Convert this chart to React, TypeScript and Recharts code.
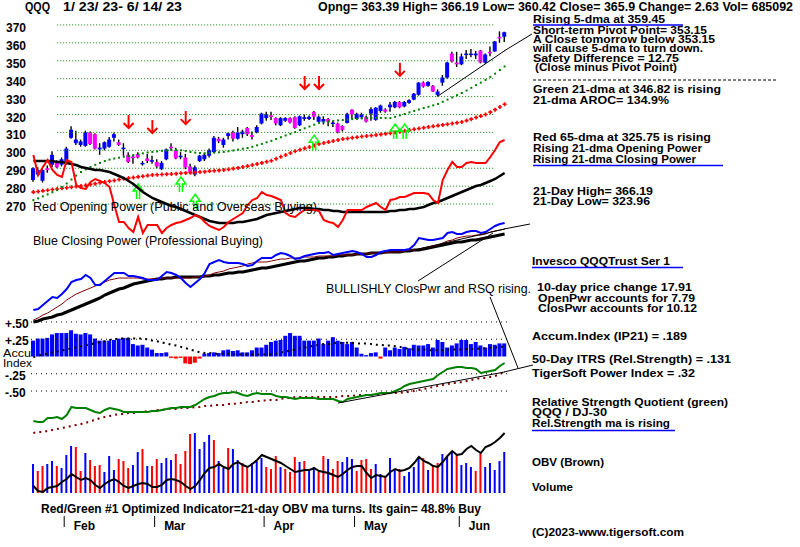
import React from "react"
import { Bar, Cell, ComposedChart, Line, ReferenceLine, XAxis, YAxis } from "recharts"

// trading days 1/23/23 - 6/14/23
const dates = [
  "1/23", "1/24", "1/25", "1/26", "1/27", "1/30", "1/31",
  "2/1", "2/2", "2/3", "2/6", "2/7", "2/8", "2/9", "2/10", "2/13", "2/14", "2/15", "2/16", "2/17", "2/21", "2/22", "2/23", "2/24", "2/27", "2/28",
  "3/1", "3/2", "3/3", "3/6", "3/7", "3/8", "3/9", "3/10", "3/13", "3/14", "3/15", "3/16", "3/17", "3/20", "3/21", "3/22", "3/23", "3/24", "3/27", "3/28", "3/29", "3/30", "3/31",
  "4/3", "4/4", "4/5", "4/6", "4/10", "4/11", "4/12", "4/13", "4/14", "4/17", "4/18", "4/19", "4/20", "4/21", "4/24", "4/25", "4/26", "4/27", "4/28",
  "5/1", "5/2", "5/3", "5/4", "5/5", "5/8", "5/9", "5/10", "5/11", "5/12", "5/15", "5/16", "5/17", "5/18", "5/19", "5/22", "5/23", "5/24", "5/25", "5/26", "5/30", "5/31",
  "6/1", "6/2", "6/5", "6/6", "6/7", "6/8", "6/9", "6/12", "6/13", "6/14",
]

const monthStarts = ["2/1", "3/1", "4/3", "5/1", "6/1"]
const monthNames = ["Feb", "Mar", "Apr", "May", "Jun"]

const opens = [
  283.5, 286.5, 283, 290, 292, 293, 292, 293, 307, 304,
  303, 302.5, 310, 309, 300.5, 301, 302, 307, 304.5, 301,
  297.5, 296.5, 298, 292.5, 295.5, 294, 293.5, 289.5, 295, 302,
  300, 296.5, 296, 291, 286.5, 294, 295, 297, 299, 306.5,
  303, 308, 310, 306.5, 309, 312.5, 308.5, 310, 315, 318,
  319.5, 318, 314, 316.5, 318, 318.5, 314, 317.5, 317.5, 321.5,
  316, 316, 317.5, 315, 315, 313.6, 315.3, 322.7, 317.5, 318.5,
  318.7, 320.5, 317, 322, 322.8, 324, 324, 327, 324.5, 326.5,
  328.3, 331, 337.8, 336, 336, 331, 337.8, 340.6, 354, 349,
  348, 353.5, 353.5, 353, 355.7, 349, 355, 355.2, 363.3, 363.39,
]
const highs = [
  290.5, 290.5, 289.5, 291.5, 299.5, 294.5, 296, 302, 313.5, 311,
  306, 311, 310.5, 309.5, 304, 305, 307.5, 310, 306, 304,
  299, 297.5, 299, 294, 298, 297, 295, 294, 301, 304,
  301.5, 299, 298, 292.5, 291.5, 297.5, 298.5, 301, 308, 307.5,
  307, 310, 311, 313, 311.5, 313, 310.5, 314, 321, 321.5,
  321.5, 318.5, 318.5, 318.5, 318.5, 319, 319.5, 320, 319.5, 322,
  319.5, 319, 318, 316.5, 315.5, 314, 321, 323, 321, 321,
  319.5, 324, 324, 325.5, 323.5, 327, 327.5, 327.5, 327.5, 328.5,
  332, 338, 338.5, 338.5, 336.5, 334, 342, 349.5, 355, 355,
  354, 356, 356.5, 355.5, 356, 354, 358, 361, 366.4, 366.19,
]
const lows = [
  282.5, 285.5, 282, 287.5, 290.5, 290, 291, 292, 306.5, 303,
  302, 302, 303, 300.5, 297.5, 300, 301.5, 305, 302.5, 297,
  293, 292.5, 295.5, 291.5, 293, 292.5, 290, 289, 294.5, 300,
  295, 295, 289.5, 287, 285.5, 293.5, 294, 296, 298.5, 304,
  301.5, 306, 305, 306, 307, 308, 306, 309.5, 314.5, 316.5,
  317, 314, 313.5, 316, 315, 312, 313.5, 316.5, 317, 317,
  315.5, 314.5, 313.5, 313, 309.5, 310.5, 315, 317.5, 317, 317.5,
  315.5, 316.5, 316.5, 321, 321, 321.5, 323.5, 323.5, 324, 326,
  328, 330.5, 335, 335.5, 332.5, 330, 336, 340, 349, 346.5,
  347.5, 351, 352, 351, 348.5, 348.5, 352.5, 355, 360, 360.42,
]
const closes = [
  290, 289, 289, 289, 297.5, 290.5, 295, 301, 311.5, 306,
  305, 310, 303.5, 301, 301.5, 304.5, 306, 309, 303, 301.5,
  293.5, 296, 296, 293, 294, 294.5, 291, 293, 300.5, 301.5,
  295.5, 297, 290.5, 288, 290.5, 297, 297.5, 300, 307, 305,
  306, 309.5, 306.5, 310, 310.5, 309, 307.5, 313, 320.5, 320,
  319, 315, 318, 318, 315.5, 312.5, 319, 318.5, 318.7, 318.7,
  318.7, 317.5, 316, 315.5, 310, 311.4, 320.4, 320, 320.4, 320,
  316, 323, 323.8, 325, 321.6, 325.5, 327, 324, 327, 328,
  331.6, 337.8, 335.6, 338.2, 332.8, 332.8, 340.6, 349, 349.6, 348,
  352.4, 354, 354, 354, 349, 353.5, 354.3, 360.8, 363, 365.9,
]

// green 21-dma and red 65-dma
const ma21 = [
  272.2, 273.2, 274.3, 275.4, 276.6, 277.8, 279.5, 281.5, 283.7, 285.9,
  287.9, 289.4, 290.7, 291.9, 293.0, 294.0, 294.8, 295.4, 295.9, 296.4,
  296.8, 297.3, 297.8, 298.3, 298.8, 299.1, 299.4, 299.7, 299.9, 300.1,
  300.2, 300.0, 299.6, 299.1, 298.7, 298.5, 298.4, 298.5, 298.7, 298.9,
  299.1, 299.5, 299.9, 300.4, 300.9, 301.3, 302.0, 302.8, 303.6, 304.5,
  305.3, 306.3, 307.3, 308.3, 309.2, 310.2, 311.3, 312.3, 313.3, 314.3,
  315.3, 315.7, 316.1, 316.4, 316.7, 316.9, 317.2, 317.4, 317.6, 317.8,
  318.0, 318.0, 318.1, 318.1, 318.0, 318.0, 318.7, 319.5, 320.3, 321.2,
  322.0, 322.8, 323.6, 324.3, 325.1, 325.9, 327.1, 328.3, 329.5, 330.8,
  332.0, 333.4, 334.9, 336.4, 337.8, 339.3, 341.0, 342.8, 344.8, 346.8,
]
const ma65 = [
  276.7, 277.0, 277.4, 277.7, 278.1, 278.4, 278.8, 279.1, 279.4, 279.8,
  280.1, 280.5, 281.0, 281.4, 281.9, 282.3, 282.8, 283.2, 283.7, 284.1,
  284.5, 284.8, 285.2, 285.5, 285.9, 286.2, 286.4, 286.5, 286.7, 286.8,
  287.0, 287.2, 287.4, 287.5, 287.7, 287.9, 288.1, 288.4, 288.6, 288.8,
  289.0, 289.4, 289.8, 290.2, 290.7, 291.2, 291.8, 292.4, 293.0, 293.6,
  294.2, 295.3, 296.4, 297.4, 298.5, 299.5, 300.3, 301.1, 301.9, 302.7,
  303.5, 304.1, 304.6, 305.2, 305.8, 306.3, 306.6, 307.0, 307.3, 307.7,
  308.0, 308.3, 308.6, 308.9, 309.2, 309.5, 310.0, 310.4, 310.9, 311.3,
  311.8, 312.2, 312.6, 313.0, 313.4, 313.8, 314.2, 314.6, 315.0, 315.4,
  315.8, 316.6, 317.4, 318.3, 319.1, 320.0, 321.3, 322.7, 324.2, 325.75,
]

const sellSignals = [
  { date: "2/21", price: 315.8 }, { date: "2/28", price: 313 }, { date: "3/9", price: 318 },
  { date: "4/14", price: 337.6 }, { date: "4/19", price: 337.6 }, { date: "5/12", price: 344.9 },
]
const buySignals = [
  { date: "2/23", price: 276.7 }, { date: "3/8", price: 280.6 }, { date: "3/13", price: 271 },
  { date: "4/18", price: 304 }, { date: "5/11", price: 310.2 }, { date: "5/15", price: 310.2 },
]

// Opening Power (red) and its average (black), chart units
const openPower = [
  85, 65, 73, 80, 70, 65, 63, 80, 78, 55,
  52, 51, 58, 61, 59, 57, 53, 35, 18, 18,
  12, 8, 23, 7, 15, 15, 15, 7, 12, 15,
  17, 18, 20, 22, 25, 23, 18, 14, 12, 10,
  13, 18, 21, 24, 27, 35, 40, 42, 48, 45,
  44, 42, 40, 27, 24, 23, 27, 30, 30, 30,
  29, 20, 18, 17, 13, 20, 30, 30, 30, 30,
  33, 35, 37, 33, 30, 40, 41, 43, 43, 45,
  47, 47, 47, 46, 40, 37, 60, 70, 78, 73,
  73, 77, 78, 77, 77, 77, 83, 90, 98, 100,
]
const openPowerMa = [
  79, 79, 79, 79, 79, 78, 78, 77, 76, 75,
  73, 72, 71, 70, 70, 69, 68, 66, 64, 62,
  59, 56, 52, 48, 45, 42, 40, 38, 36, 34,
  33, 31, 29, 27, 25, 23, 21, 19, 18, 17,
  17, 17, 17, 18, 18, 19, 20, 21, 23, 25,
  26, 27, 28, 29, 30, 31, 32, 32, 32, 31,
  31, 30, 30, 29, 29, 28, 28, 28, 28, 28,
  28, 28, 28, 28, 28, 29, 29, 30, 30, 31,
  31, 32, 33, 35, 37, 38, 40, 42, 44, 46,
  48, 50, 52, 54, 55, 57, 59, 61, 64, 67,
]

// Closing Power (blue), its 21-dma (black) and short ma (brown)
const closePower = [
  20, 21, 25, 29, 33, 32, 36, 41, 48, 50,
  51, 55, 52, 45, 45, 49, 53, 57, 57, 57,
  54, 54, 53, 52, 50, 50, 50, 54, 58, 57,
  55, 52, 47, 43, 47, 51, 57, 66, 68, 70,
  68, 67, 67, 67, 66, 64, 65, 69, 72, 72,
  72, 75, 77, 76, 74, 71, 72, 74, 75, 76,
  77, 77, 78, 75, 76, 77, 78, 79, 78, 76,
  73, 73, 75, 78, 79, 80, 80, 80, 80, 81,
  85, 92, 91, 90, 90, 91, 92, 97, 98, 96,
  96, 98, 99, 99, 97, 98, 101, 104, 106, 107,
]
const closePowerMa = [
  8, 9, 11, 12, 13, 15, 16, 18, 20, 22,
  24, 26, 28, 30, 32, 35, 37, 39, 41, 42,
  44, 46, 47, 48, 49, 50, 51, 51, 52, 52,
  53, 53, 53, 53, 53, 53, 54, 54, 55, 55,
  56, 57, 57, 58, 58, 59, 60, 61, 62, 62,
  63, 64, 65, 66, 67, 68, 69, 69, 70, 71,
  72, 72, 73, 73, 74, 74, 75, 75, 76, 76,
  76, 77, 77, 77, 78, 78, 78, 78, 79, 79,
  80, 80, 81, 82, 83, 84, 85, 86, 87, 88,
  88, 89, 90, 90, 91, 92, 93, 94, 95, 96,
]
const closePowerFast = [
  10, 12, 15, 17, 20, 23, 26, 30, 33, 36,
  38, 40, 42, 44, 46, 48, 50, 51, 52, 52,
  52, 52, 52, 51, 51, 51, 51, 52, 52, 52,
  52, 52, 52, 52, 53, 53, 54, 55, 57, 58,
  59, 61, 62, 63, 64, 66, 67, 68, 68, 68,
  69, 70, 71, 71, 72, 72, 72, 73, 73, 73,
  74, 74, 74, 74, 75, 75, 75, 75, 76, 76,
  76, 77, 77, 77, 77, 78, 78, 78, 79, 80,
  80, 81, 82, 83, 84, 85, 87, 89, 90, 92,
  93, 94, 94, 95, 95, 96, 98, 99, 100, 101,
]

// Accumulation Index (IP21) and its ma
const accum = [
  0.23, 0.26, 0.26, 0.27, 0.32, 0.34, 0.34, 0.34, 0.38, 0.33,
  0.32, 0.34, 0.32, 0.26, 0.23, 0.23, 0.23, 0.24, 0.26, 0.27,
  0.27, 0.18, 0.16, 0.17, 0.13, 0.10, 0.05, 0.05, 0.06, -0.02,
  -0.03, -0.02, -0.10, -0.11, -0.09, -0.03, 0.04, 0.05, 0.06, 0.05,
  0.09, 0.10, 0.08, 0.09, 0.06, 0.06, 0.09, 0.13, 0.13, 0.17,
  0.21, 0.23, 0.24, 0.30, 0.34, 0.30, 0.30, 0.23, 0.23, 0.23,
  0.26, 0.18, 0.23, 0.28, 0.23, 0.21, 0.18, 0.21, 0.13, 0.04,
  0.02, 0.05, 0.06, -0.03, 0.13, 0.09, 0.13, 0.11, 0.14, 0.12,
  0.17, 0.16, 0.16, 0.18, 0.13, 0.24, 0.21, 0.13, 0.16, 0.19,
  0.24, 0.24, 0.18, 0.21, 0.16, 0.13, 0.18, 0.17, 0.19, 0.19,
]
const accumMa = [
  -0.01, 0.01, 0.03, 0.04, 0.06, 0.07, 0.09, 0.10, 0.12, 0.13,
  0.15, 0.16, 0.18, 0.19, 0.21, 0.22, 0.24, 0.25, 0.26, 0.26,
  0.26, 0.26, 0.26, 0.26, 0.25, 0.23, 0.22, 0.20, 0.19, 0.17,
  0.16, 0.14, 0.12, 0.10, 0.08, 0.06, 0.05, 0.05, 0.04, 0.04,
  0.04, 0.04, 0.03, 0.03, 0.03, 0.03, 0.03, 0.03, 0.03, 0.03,
  0.03, 0.04, 0.06, 0.07, 0.09, 0.10, 0.12, 0.13, 0.14, 0.16,
  0.17, 0.18, 0.18, 0.19, 0.20, 0.20, 0.20, 0.20, 0.19, 0.19,
  0.19, 0.18, 0.17, 0.17, 0.16, 0.16, 0.15, 0.14, 0.12, 0.11,
  0.10, 0.10, 0.10, 0.09, 0.09, 0.09, 0.09, 0.10, 0.10, 0.10,
  0.10, 0.11, 0.11, 0.11, 0.12, 0.12, 0.13, 0.13, 0.14, 0.14,
]

// Relative Strength Quotient QQQ / DJ-30 (green) and its ma (dark red)
const relStrength = [
  19, 18, 18, 22, 22, 23, 21, 25, 33, 32,
  32, 32, 30, 28, 27, 30, 32, 31, 30, 28,
  28, 28, 28, 28, 28, 29, 29, 30, 31, 32,
  32, 33, 33, 33, 35, 38, 41, 43, 44, 46,
  47, 47, 48, 47, 45, 44, 46, 47, 46, 46,
  46, 44, 43, 43, 42, 41, 42, 42, 42, 42,
  41, 41, 41, 41, 39, 38, 41, 42, 43, 44,
  45, 45, 46, 47, 47, 47, 49, 51, 54, 56,
  57, 58, 59, 60, 61, 65, 68, 71, 72, 73,
  73, 72, 72, 71, 67, 68, 69, 70, 74, 77,
]
const relStrengthMa = [
  7, 8, 8, 9, 10, 11, 12, 13, 14, 15,
  16, 17, 19, 20, 22, 23, 24, 25, 26, 26,
  27, 27, 28, 28, 29, 29, 30, 30, 31, 31,
  31, 32, 32, 32, 33, 33, 34, 34, 35, 35,
  35, 36, 36, 37, 37, 38, 38, 39, 39, 40,
  40, 40, 41, 42, 42, 43, 43, 43, 43, 43,
  43, 43, 43, 43, 43, 44, 44, 44, 45, 45,
  45, 45, 46, 46, 46, 47, 47, 47, 48, 48,
  49, 50, 51, 52, 53, 54, 55, 56, 57, 57,
  58, 59, 60, 61, 62, 62, 63, 64, 66, 68,
]

// volume (b = up day, r = down day) and OBV
const volume = [
  29, 22, 27, 29, 32, 27, 25, 38, 47, 46,
  22, 40, 33, 27, 28, 21, 37, 23, 34, 32,
  25, 28, 41, 44, 27, 27, 34, 30, 35, 33,
  39, 29, 42, 59, 60, 44, 51, 58, 53, 32,
  25, 45, 44, 33, 30, 27, 30, 32, 35, 26,
  24, 37, 26, 24, 21, 36, 31, 32, 23, 26,
  21, 37, 34, 24, 32, 31, 36, 34, 22, 33,
  34, 24, 29, 19, 16, 35, 24, 24, 17, 21,
  26, 36, 35, 23, 27, 30, 39, 36, 42, 38,
  28, 30, 26, 22, 41, 26, 30, 23, 32, 41,
]
const volumeSide = (
  "brrbbrbbbr" + "rbrrrbbbrr" + "rbbrbrrbbb" + "rrrrbbbbrb" + "brbbrrbbbr" +
  "rrbrrrbrbb" + "rrbrrbbbrr" + "rrbbrbbrbb" + "bbrbrrbbbr" + "bbbrrbbbbb"
).split("")
const obv = [
  7, 2, 1, 5, 6, 7, 11, 14, 19, 16,
  13, 15, 13, 8, 5, 9, 12, 14, 11, 7,
  5, 7, 9, 10, 9, 6, 6, 8, 13, 14,
  13, 11, 7, 4, 7, 13, 20, 25, 26, 29,
  26, 24, 29, 31, 28, 26, 29, 33, 38, 36,
  34, 32, 30, 27, 24, 21, 22, 23, 23, 25,
  22, 21, 20, 18, 16, 19, 23, 26, 27, 27,
  20, 15, 18, 17, 16, 21, 24, 22, 23, 25,
  30, 36, 32, 30, 27, 26, 31, 37, 42, 38,
  39, 44, 47, 43, 40, 46, 48, 51, 55, 60,
]

const priceTicks = [370, 360, 350, 340, 330, 320, 310, 300, 290, 280, 270]
const accumTicks = [0.5, 0.25, -0.25, -0.5]

const rows = dates.map((date, i) => ({
  date,
  open: opens[i],
  high: highs[i],
  low: lows[i],
  close: closes[i],
  hl: [lows[i], highs[i]],
  ma21: ma21[i],
  ma65: ma65[i],
  sell: sellSignals.find((s) => s.date === date)?.price ?? null,
  buy: buySignals.find((s) => s.date === date)?.price ?? null,
  op: openPower[i],
  opMa: openPowerMa[i],
  cp: closePower[i],
  cpMa: closePowerMa[i],
  cpFast: closePowerFast[i],
  ai: accum[i],
  aiMa: accumMa[i],
  rs: relStrength[i],
  rsMa: relStrengthMa[i],
  vol: volume[i],
  obv: obv[i],
}))

const FONT = "'Liberation Sans', Arial, Helvetica, sans-serif"
const LEFT = 31
const RIGHT = 293
const BLUE = "#0000ff"
const RED = "#ff0000"

const renderCandle = (p: any) => {
  const { x, y, width, height, payload } = p
  if (x == null || y == null) return <g />
  const top = Math.min(y, y + height)
  const h = Math.abs(height)
  const span = payload.high - payload.low || 1
  const yAt = (v: number) => top + ((payload.high - v) / span) * h
  const b1 = yAt(Math.max(payload.open, payload.close))
  const b2 = yAt(Math.min(payload.open, payload.close))
  const cx = x + width / 2
  return (
    <g>
      <line x1={cx} x2={cx} y1={top} y2={top + h} stroke="#000" strokeWidth={1.4} />
      <rect x={x} y={b1} width={width} height={Math.max(b2 - b1, 1.5)} fill={payload.close >= payload.open ? BLUE : "#ff00ff"} />
    </g>
  )
}

const greenDot = (p: any) =>
  p.cy == null ? <g key={p.key} /> : <rect key={p.key} x={p.cx - 1} y={p.cy - 1} width={2} height={2} fill="#008000" />

const redCross = (p: any) =>
  p.cy == null ? <g key={p.key} /> : (
    <path key={p.key} d={`M${p.cx - 2},${p.cy}h4M${p.cx},${p.cy - 2}v4`} stroke={RED} strokeWidth={1.6} />
  )

const sellArrow = (p: any) => {
  if (p.value == null || p.cy == null) return <g key={p.key} />
  const { cx, cy } = p
  return (
    <g key={p.key} stroke={RED} strokeWidth={2} fill="none">
      <line x1={cx} y1={cy - 7} x2={cx} y2={cy + 6} />
      <polyline points={`${cx - 5},${cy + 1} ${cx},${cy + 6} ${cx + 5},${cy + 1}`} />
    </g>
  )
}

const buyArrow = (p: any) => {
  if (p.value == null || p.cy == null) return <g key={p.key} />
  const { cx, cy } = p
  const pts = [
    [cx - 1.5, cy + 7], [cx - 1.5, cy - 1], [cx - 5, cy - 1], [cx, cy - 8],
    [cx + 5, cy - 1], [cx + 1.5, cy - 1], [cx + 1.5, cy + 7],
  ].map((q) => q.join(",")).join(" ")
  return <polyline key={p.key} points={pts} stroke="#00ff00" strokeWidth={1.5} fill="none" />
}

const PriceTick = (p: any) => (
  <text x={6} y={p.y + 7} fontSize={12} fontWeight={700} fontFamily={FONT} fill="#000">
    {p.payload.value}
  </text>
)

const AccumTick = (p: any) => {
  const v = p.payload.value
  const label = (v > 0 ? "+" : "-") + "." + String(Math.round(Math.abs(v) * 100)).padStart(2, "0")
  return (
    <text x={5} y={p.y + 6} fontSize={12} fontWeight={700} fontFamily={FONT} fill="#000">
      {label}
    </text>
  )
}

const MonthTick = (p: any) => {
  const name = monthNames[monthStarts.indexOf(p.payload.value)]
  return (
    <g>
      <line x1={p.x - 2.5} x2={p.x - 2.5} y1={103} y2={114} stroke="#000" />
      <text x={p.x + 7} y={117} fontSize={12} fontWeight={700} fontFamily={FONT} fill="#000">
        {name}
      </text>
    </g>
  )
}

const Txt = ({ x, y, w, size = 11, weight = 700, children }: any) => (
  <text x={x} y={y} fontSize={size} fontWeight={weight} fontFamily={FONT} fill="#000"
    textLength={w} lengthAdjust="spacingAndGlyphs">
    {children}
  </text>
)

// x, baseline, width, font size, text
const notes: [number, number, number, number, string][] = [
  [533, 23, 132, 11, "Rising 5-dma at 359.45"],
  [533, 34, 174, 10, "Short-term Pivot Point= 353.15"],
  [533, 43, 182, 10, "A Close tomorrow below  353.15"],
  [533, 52, 170, 10, "will cause 5-dma to turn down."],
  [533, 62, 146, 10, "Safety Difference = 12.75"],
  [535, 71, 142, 10, "(Close minus Pivot Point)"],
  [533, 93, 188, 11, "Green 21-dma at  346.82 is rising"],
  [533, 104, 136, 11, "21-dma AROC=  134.9%"],
  [533, 141, 178, 11, "Red 65-dma at  325.75 is rising"],
  [533, 152, 169, 10, "Rising 21-dma Opening Power"],
  [533, 163, 163, 10, "Rising 21-dma Closing Power"],
  [533, 195, 120, 10, "21-Day High= 366.19"],
  [533, 205, 117, 10, "21-Day Low= 323.96"],
  [532, 265, 138, 11, "Invesco QQQTrust Ser 1"],
  [537, 291, 155, 10, "10-day price change  17.91"],
  [538, 302, 157, 10, "OpenPwr accounts for  7.79"],
  [538, 312, 159, 10, "ClosPwr accounts for  10.12"],
  [532, 340, 155, 11, "Accum.Index (IP21) =  .189"],
  [532, 363, 199, 11, "50-Day ITRS (Rel.Strength) =  .131"],
  [532, 377, 163, 11, "TigerSoft Power Index =  .32"],
  [532, 406, 196, 10, "Relative Strength Quotient (green)"],
  [532, 416, 75, 10, "QQQ / DJ-30"],
  [532, 427, 138, 10, "Rel.Strength ma is rising"],
  [532, 466, 72, 11, "OBV (Brown)"],
  [532, 491, 41, 11, "Volume"],
  [532, 536, 152, 11, "(C)2023-www.tigersoft.com"],
]

const Panel = ({ top, height, children, margin }: any) => (
  <div style={{ position: "absolute", left: 0, top }}>
    <ComposedChart width={800} height={height} data={rows}
      margin={margin ?? { top: 0, right: RIGHT, bottom: 0, left: LEFT }}>
      {children}
    </ComposedChart>
  </div>
)

export default function App() {
  const noDot = { dot: false, activeDot: false, isAnimationActive: false } as const
  return (
    <div style={{ position: "absolute", left: 0, top: 0, width: 800, height: 547, background: "#fff", overflow: "hidden", fontFamily: FONT }}>
      {/* price bars with 21-dma and 65-dma */}
      <Panel top={0} height={230} margin={{ top: 7, right: RIGHT, bottom: 8, left: 0 }}>
        <XAxis dataKey="date" hide scale="band" />
        <YAxis width={LEFT} domain={[260, 380]} ticks={priceTicks} interval={0} allowDataOverflow
          axisLine={false} tickLine={false} tick={<PriceTick />} />
        {priceTicks.map((p) => (
          <ReferenceLine key={p} segment={[{ x: dates[5], y: p }, { x: dates[97], y: p }]}
            stroke="#008000" strokeDasharray="1 2" />
        ))}
        <Line dataKey="ma65" stroke="none" dot={redCross} activeDot={false} isAnimationActive={false} />
        <Line dataKey="ma21" stroke="none" dot={greenDot} activeDot={false} isAnimationActive={false} />
        <Bar dataKey="hl" barSize={4} shape={renderCandle} isAnimationActive={false} />
        <ReferenceLine segment={[{ x: "5/24", y: 330.3 }, { x: "6/14", y: 355.6 }]} stroke="#000" strokeWidth={1} />
        <Line dataKey="sell" stroke="none" dot={sellArrow} activeDot={false} isAnimationActive={false} />
        <Line dataKey="buy" stroke="none" dot={buyArrow} activeDot={false} isAnimationActive={false} />
      </Panel>

      {/* Opening Power */}
      <Panel top={120} height={120}>
        <XAxis dataKey="date" hide scale="band" />
        <YAxis hide domain={[0, 120]} allowDataOverflow />
        <Line dataKey="opMa" stroke="#000" strokeWidth={2.5} {...noDot} />
        <Line dataKey="op" stroke={RED} strokeWidth={2} {...noDot} />
      </Panel>

      {/* Closing Power */}
      <Panel top={220} height={110}>
        <XAxis dataKey="date" hide scale="band" />
        <YAxis hide domain={[0, 110]} allowDataOverflow />
        <Line dataKey="cpMa" stroke="#000" strokeWidth={3} {...noDot} />
        <Line dataKey="cpFast" stroke="#800000" strokeWidth={1} {...noDot} />
        <Line dataKey="cp" stroke={BLUE} strokeWidth={2} {...noDot} />
        <ReferenceLine segment={[{ x: "5/17", y: 80 }, { x: "6/14", y: 101 }]} stroke="#000" strokeWidth={1} />
      </Panel>

      {/* Accumulation Index */}
      <Panel top={312} height={89} margin={{ top: 10, right: RIGHT, bottom: 10, left: 0 }}>
        <XAxis dataKey="date" hide scale="band" />
        <YAxis width={LEFT} domain={[-0.5, 0.5]} ticks={accumTicks} interval={0} allowDataOverflow
          axisLine={false} tickLine={false} tick={<AccumTick />} />
        {accumTicks.map((t) => (
          <ReferenceLine key={t} y={t} stroke="#000" strokeDasharray="1 4" />
        ))}
        <Bar dataKey="ai" barSize={4} isAnimationActive={false}>
          {rows.map((r) => (
            <Cell key={r.date} fill={r.ai >= 0 ? BLUE : RED} />
          ))}
        </Bar>
        <Line dataKey="aiMa" stroke="#000" strokeWidth={2} strokeDasharray="2 4" {...noDot} />
      </Panel>

      {/* Relative Strength Quotient */}
      <Panel top={350} height={90}>
        <XAxis dataKey="date" hide scale="band" />
        <YAxis hide domain={[0, 90]} allowDataOverflow />
        <Line dataKey="rsMa" stroke="#800000" strokeWidth={2} strokeDasharray="2 4" {...noDot} />
        <Line dataKey="rs" stroke="#008000" strokeWidth={2} {...noDot} />
        <ReferenceLine segment={[{ x: "4/25", y: 37 }, { x: "6/14", y: 68 }]} stroke="#000" strokeWidth={1} />
      </Panel>

      {/* Volume and OBV */}
      <Panel top={413} height={130}>
        <XAxis dataKey="date" scale="band" height={50} ticks={monthStarts} interval={0}
          axisLine={false} tickLine={false} tick={<MonthTick />} />
        <YAxis hide domain={[0, 80]} allowDataOverflow />
        <Bar dataKey="vol" barSize={2} isAnimationActive={false}>
          {rows.map((r, i) => (
            <Cell key={r.date} fill={volumeSide[i] === "r" ? RED : BLUE} />
          ))}
        </Bar>
        <Line dataKey="obv" stroke="#000" strokeWidth={2} {...noDot} />
      </Panel>

      <svg width={800} height={547} style={{ position: "absolute", left: 0, top: 0 }}>
        <Txt x={25} y={11} w={25} size={12}>QQQ</Txt>
        <Txt x={63} y={11} w={119} size={12}>1/ 23/ 23- 6/ 14/ 23</Txt>
        <Txt x={318} y={11} w={475} size={12}>Opng= 363.39 High= 366.19 Low= 360.42 Close= 365.9 Change= 2.63 Vol= 685092</Txt>

        <Txt x={33} y={211} w={284} size={13} weight={400}>Red Opening Power (Public and Overseas Buying)</Txt>
        <Txt x={33} y={245} w={230} size={13} weight={400}>Blue Closing Power (Professional Buying)</Txt>
        <Txt x={326} y={293} w={205} size={13} weight={400}>BULLISHLY ClosPwr and RSQ rising.</Txt>
        <Txt x={3} y={357} w={28} size={11} weight={400}>Accu</Txt>
        <Txt x={3} y={367} w={29} size={11} weight={400}>Index</Txt>
        <Txt x={41} y={513} w={440} size={12}>Red/Green #1 Optimized Indicator=21-day OBV ma turns. Its gain= 48.8% Buy</Txt>

        {notes.map(([x, y, w, size, s]) => (
          <Txt key={s} x={x} y={y} w={w} size={size}>{s}</Txt>
        ))}

        <line x1={533} x2={683} y1={25} y2={25} stroke={BLUE} strokeWidth={1.5} />
        <line x1={533} x2={723} y1={165.5} y2={165.5} stroke={BLUE} strokeWidth={1.5} />
        <line x1={532} x2={683} y1={267.5} y2={267.5} stroke={BLUE} strokeWidth={1.5} />
        <line x1={532} x2={675} y1={430.5} y2={430.5} stroke={BLUE} strokeWidth={1.5} />
        <line x1={533} x2={777} y1={80} y2={80} stroke="#000" strokeDasharray="3 2" />

        <g stroke="#000" strokeWidth={1}>
          <line x1={504} y1={51} x2={532} y2={34} />
          <line x1={504} y1={229} x2={530} y2={224} />
          <line x1={504} y1={372} x2={533} y2={365} />
          <line x1={418} y1={281} x2={493} y2={233} />
          <line x1={490} y1={297} x2={518} y2={368} />
        </g>
      </svg>
    </div>
  )
}
